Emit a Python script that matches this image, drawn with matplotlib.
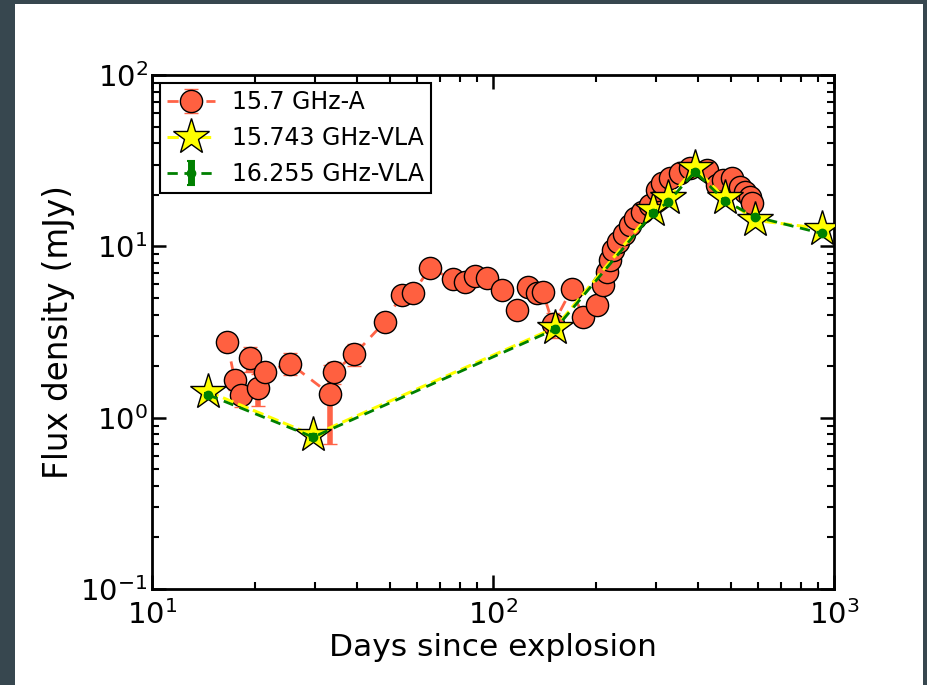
import numpy as np
import matplotlib
matplotlib.use("Agg")
import matplotlib.pyplot as plt
from matplotlib.patches import Rectangle

# 15.7 GHz-A light curve (days, mJy, error)
a_days = [16.6, 17.5, 18.3, 19.4, 20.5, 21.4, 25.4, 33.3, 34.2, 39.2,
          48.2, 54.0, 58.1, 65.3, 76.5, 82.8, 88.5, 95.8, 106, 117.8,
          127, 134.3, 139.9, 150, 170, 184, 202, 210, 215.5, 220,
          225.4, 233, 242, 252, 261, 273, 289, 302, 312.5, 330,
          353, 378, 423, 453, 474, 501, 530, 548, 567, 573.5]
a_flux = [2.75, 1.66, 1.36, 2.22, 1.48, 1.85, 2.07, 1.37, 1.85, 2.34,
          3.63, 5.2, 5.32, 7.44, 6.42, 6.21, 6.71, 6.5, 5.56, 4.25,
          5.81, 5.32, 5.43, 3.5, 5.61, 3.88, 4.54, 5.94, 7.11, 8.32,
          9.52, 10.6, 11.8, 13.3, 14.6, 15.9, 17.4, 21.3, 23.3, 24.9,
          26.7, 28.5, 27.9, 22.8, 24.4, 24.9, 22.3, 20.8, 19.5, 17.8]
a_err = [0.3, 0.2, 0.2, 0.37, 0.31, 0.2, 0.3, 0.67, 0.27, 0.34,
         0.2, 0.2, 0.25, 0.3, 0.3, 0.3, 0.3, 0.3, 0.3, 0.2,
         0.3, 0.3, 0.3, 0.6, 0.3, 0.2, 0.2, 0.3, 0.3, 0.4,
         0.4, 0.5, 0.5, 0.6, 0.6, 0.7, 0.7, 0.8, 0.9, 1.0,
         1.0, 1.1, 1.1, 1.0, 1.0, 1.0, 1.0, 0.9, 0.9, 0.8]

# 15.743 GHz VLA
vla1_days = [14.6, 29.7, 152, 295, 327, 391, 479, 586, 920]
vla1_flux = [1.42, 0.79, 3.35, 16.3, 19.1, 28.5, 19.1, 14.2, 12.7]

# 16.255 GHz VLA
vla2_days = [14.6, 29.7, 152, 295, 327, 391, 479, 586, 920]
vla2_flux = [1.36, 0.77, 3.28, 15.7, 18.2, 27.3, 18.4, 14.9, 11.9]
vla2_err = [0.04, 0.03, 0.08, 0.3, 0.3, 0.5, 0.4, 0.3, 0.3]

labels = ['15.7 GHz-A', '15.743 GHz-VLA', '16.255 GHz-VLA']

plt.rcParams['font.family'] = 'DejaVu Sans'
plt.rcParams['mathtext.fontset'] = 'dejavusans'

fig = plt.figure(figsize=(9.28, 6.85), dpi=100, facecolor='#37474f')
# white page inside the dark frame
page = Rectangle((15 / 928, 0), (923 - 15) / 928, (685 - 4) / 685,
                 transform=fig.transFigure, facecolor='white',
                 edgecolor='none', zorder=-10)
fig.add_artist(page)

ax = fig.add_axes([152 / 928, 1 - 589 / 685, 682 / 928, 514 / 685])
ax.set_facecolor('none')

h1 = ax.errorbar(a_days, a_flux, yerr=a_err, fmt='o', ls='--', color='#ff6347',
                 mfc='#ff6040', mec='black', mew=1.0, ms=16, lw=2,
                 elinewidth=4, capsize=5, capthick=2, ecolor='#ff6347',
                 dashes=(4, 3), label=labels[0], zorder=2)
h2, = ax.plot(vla1_days, vla1_flux, ls='--', color='yellow', lw=2.2,
              marker='*', ms=27, mfc='yellow', mec='black', mew=1.0,
              dashes=(3.7, 1.6), label=labels[1], zorder=3)
h3 = ax.errorbar(vla2_days, vla2_flux, yerr=vla2_err, fmt='o', ls='--',
                 color='green', ms=6, lw=2, elinewidth=5, capsize=3,
                 capthick=1.5, dashes=(3.7, 2.4), label=labels[2],
                 zorder=4)

ax.set_xscale('log')
ax.set_yscale('log')
ax.set_xlim(10, 1000)
ax.set_ylim(0.1, 100)

ax.set_xlabel('Days since explosion', fontsize=22.5, labelpad=2)
ax.set_ylabel('Flux density (mJy)', fontsize=23.5, labelpad=4)

ax.tick_params(which='both', direction='in', top=True, right=True,
               labelsize=21)
ax.tick_params(axis='x', pad=8)
ax.tick_params(axis='y', pad=3)
ax.tick_params(which='major', length=10, width=1.8)
ax.tick_params(which='minor', length=5, width=1.5)
for s in ax.spines.values():
    s.set_linewidth(2)

leg = ax.legend([h1, h2, h3], labels, loc='upper left', numpoints=1,
                fontsize=17, fancybox=False, handlelength=2.0,
                borderpad=0.3, labelspacing=0.5, handletextpad=0.75,
                borderaxespad=0.35)
leg.get_frame().set_edgecolor('black')
leg.get_frame().set_linewidth(1.5)
leg.get_frame().set_alpha(1)

fig.savefig('out.png', dpi=100, facecolor=fig.get_facecolor())
